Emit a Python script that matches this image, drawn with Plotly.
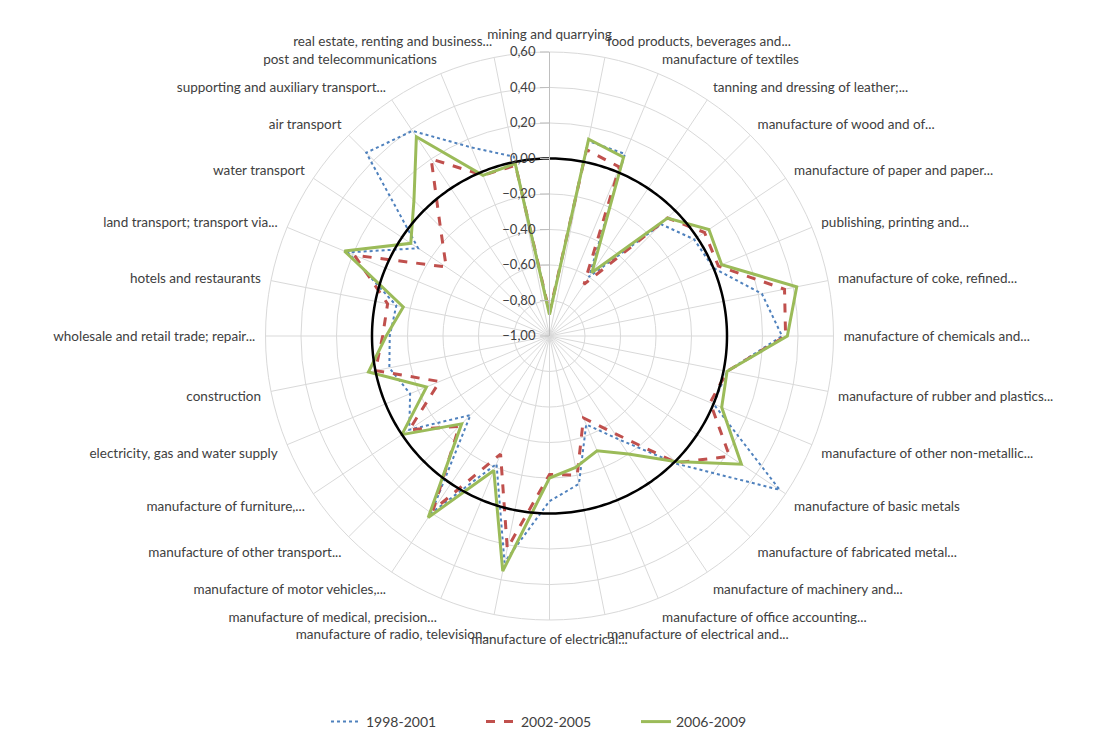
import numpy as np
import plotly.graph_objects as go

categories = [
    "mining and quarrying",
    "food products, beverages and...",
    "manufacture of textiles",
    "tanning and dressing of leather;...",
    "manufacture of wood and of...",
    "manufacture of paper and paper...",
    "publishing, printing and...",
    "manufacture of coke, refined...",
    "manufacture of chemicals and...",
    "manufacture of rubber and plastics...",
    "manufacture of other non-metallic...",
    "manufacture of basic metals",
    "manufacture of fabricated metal...",
    "manufacture of machinery and...",
    "manufacture of office accounting...",
    "manufacture of electrical and...",
    "manufacture of electrical...",
    "manufacture of radio, television...",
    "manufacture of medical, precision...",
    "manufacture of motor vehicles,...",
    "manufacture of other transport...",
    "manufacture of furniture,...",
    "electricity, gas and water supply",
    "construction",
    "wholesale and retail trade; repair...",
    "hotels and restaurants",
    "land transport; transport via...",
    "water transport",
    "air transport",
    "supporting and auxiliary transport...",
    "post and telecommunications",
    "real estate, renting and business...",
]

p1998_2001 = [-0.87, 0.12, 0.11, -0.60, -0.11, -0.02, 0.00, 0.22, 0.31, 0.02, 0.00, 0.56,
              0.02, -0.30, -0.46, -0.15, -0.07, 0.30, -0.22, 0.20, -0.37, -0.05, -0.15, -0.08,
              -0.10, -0.12, 0.23, -0.11, 0.46, 0.39, 0.15, 0.03]
p2002_2005 = [-0.87, 0.07, 0.03, -0.65, -0.06, 0.05, 0.03, 0.35, 0.33, 0.02, -0.02, 0.22,
              0.01, -0.34, -0.50, -0.20, -0.22, 0.22, -0.28, 0.18, -0.28, -0.05, -0.33, 0.00,
              -0.06, -0.07, 0.19, -0.30, -0.13, 0.20, -0.02, -0.02]
p2006_2009 = [-0.88, 0.13, 0.09, -0.57, -0.06, 0.08, 0.05, 0.42, 0.34, 0.02, 0.05, 0.30,
              0.00, -0.20, -0.30, -0.245, -0.20, 0.35, -0.18, 0.23, -0.30, 0.00, -0.25, 0.04,
              -0.08, -0.16, 0.25, -0.06, 0.08, 0.35, -0.02, -0.01]

series_names = ["1998-2001", "2002-2005", "2006-2009"]
radial_ticks = [-1.0, -0.8, -0.6, -0.4, -0.2, 0.0, 0.2, 0.4, 0.6]

n = len(categories)
step = 360.0 / n
theta = [i * step for i in range(n)]
theta_closed = theta + [360.0]

styles = [
    dict(color="#4F81BD", width=2, dash="dot"),
    dict(color="#C0504D", width=3, dash="dash"),
    dict(color="#9BBB59", width=3, dash="solid"),
]

fig = go.Figure()
for name, vals, st in zip(series_names, [p1998_2001, p2002_2005, p2006_2009], styles):
    fig.add_trace(go.Scatterpolar(
        r=vals + [vals[0]], theta=theta_closed, mode="lines", name=name,
        line=dict(color=st["color"], width=st["width"], dash=st["dash"]),
    ))

circ_theta = np.linspace(0, 360, 361)
fig.add_trace(go.Scatterpolar(
    r=np.zeros_like(circ_theta), theta=circ_theta, mode="lines",
    line=dict(color="black", width=2.5), showlegend=False, hoverinfo="skip",
))

W, H = 1093, 731
cx, cy, R = 541.5, 328.0, 284.0
fig.update_layout(
    width=W, height=H,
    margin=dict(l=0, r=0, t=0, b=0),
    paper_bgcolor="white",
    separators=",.",
    font=dict(family="Lato, Open Sans, sans-serif", color="#404040"),
    polar=dict(
        domain=dict(x=[(cx - R) / W, (cx + R) / W], y=[1 - (cy + R) / H, 1 - (cy - R) / H]),
        bgcolor="white",
        angularaxis=dict(
            type="linear", rotation=90, direction="clockwise",
            tickmode="array", tickvals=theta, ticktext=categories,
            showgrid=True, gridcolor="#d9d9d9", gridwidth=1,
            showline=True, linecolor="#d9d9d9", linewidth=1,
            ticks="outside", ticklen=7, tickcolor="rgba(0,0,0,0)",
            tickfont=dict(family="Lato, sans-serif", size=13.5, color="#404040"),
        ),
        radialaxis=dict(
            range=[-1, 0.6], tickmode="array", tickvals=radial_ticks, tickformat=".2f",
            angle=90, side="counterclockwise", tickangle=90,
            showline=True, linecolor="#bfbfbf", linewidth=1,
            showgrid=True, gridcolor="#d9d9d9", gridwidth=1,
            ticks="outside", ticklen=9, tickcolor="#bfbfbf",
            tickfont=dict(family="Lato, sans-serif", size=13, color="#404040"),
        ),
    ),
    legend=dict(
        orientation="h", x=318 / W, xanchor="left", y=1 - 714 / H, yanchor="middle",
        font=dict(family="Lato, sans-serif", size=14, color="#404040"),
        entrywidth=110, entrywidthmode="pixels",
    ),
)

fig.write_html("out.html")
